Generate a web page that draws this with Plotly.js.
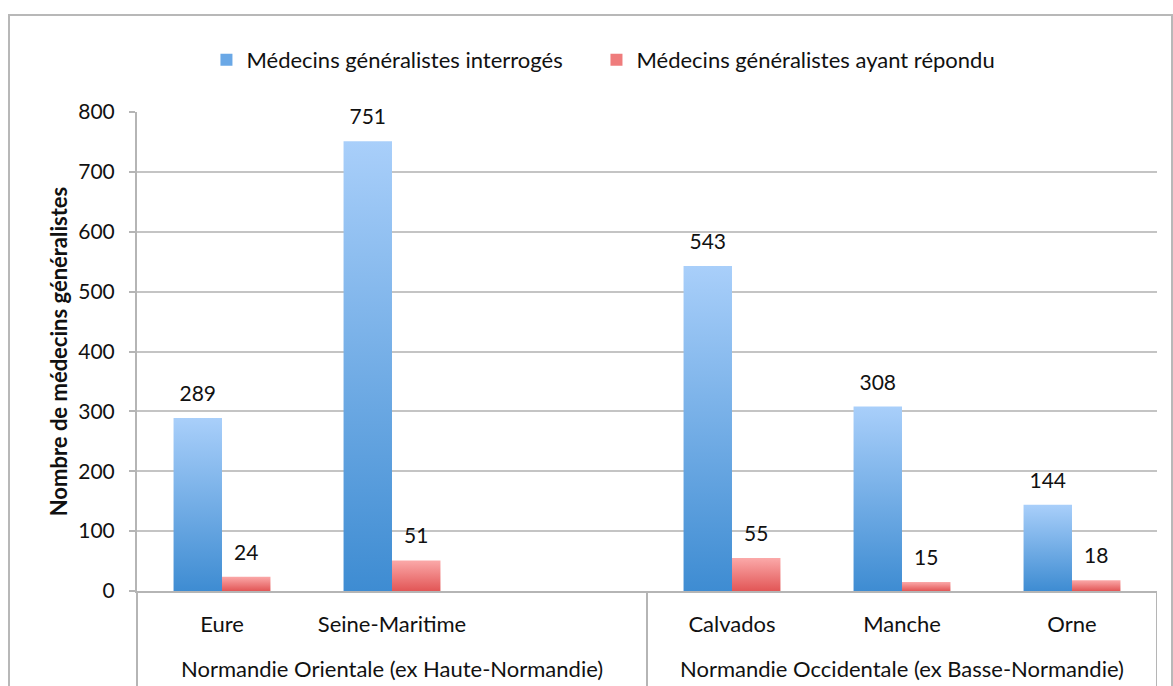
<!DOCTYPE html>
<html>
<head>
<meta charset="utf-8">
<script src="https://cdn.plot.ly/plotly-3.0.1.min.js"></script>
<style>
  html, body { margin: 0; padding: 0; background: #fff; }
  #frame { position: absolute; left: 8px; top: 14px; width: 1161px; height: 700px;
           border-left: 2px solid #b8b8b8; border-top: 2px solid #b8b8b8; border-right: 2px solid #b8b8b8; }
  #chart { position: absolute; left: 0; top: 0; width: 1173px; height: 686px; }
</style>
</head>
<body>
<div id="frame"></div>
<div id="chart"></div>
<script>
// Data
const groupLabels = ["Normandie Orientale (ex Haute-Normandie)", "Normandie Occidentale (ex Basse-Normandie)"];
const departements = ["Eure", "Seine-Maritime", " ", "Calvados", "Manche", "Orne"];
const interroges = [289, 751, null, 543, 308, 144];
const repondu = [24, 51, null, 55, 15, 18];
const yTicks = [0, 100, 200, 300, 400, 500, 600, 700, 800];

const FONT = "Lato, 'Open Sans', sans-serif";
const INK = "#111";

const traces = [
  {
    type: "bar", name: "Médecins généralistes interrogés", legend: "legend",
    x: departements, y: interroges,
    marker: { color: "#6aa8e6", line: { width: 0 } },
    text: interroges.map(v => v == null ? "" : String(v)),
    textposition: "outside", cliponaxis: false,
    textfont: { family: FONT, size: 21, color: INK },
    hoverinfo: "y"
  },
  {
    type: "bar", name: "Médecins généralistes ayant répondu", legend: "legend2",
    x: departements, y: repondu,
    marker: { color: "#ef7c7c", line: { width: 0 } },
    text: repondu.map(v => v == null ? "" : String(v)),
    textposition: "outside", cliponaxis: false,
    textfont: { family: FONT, size: 21, color: INK },
    hoverinfo: "y"
  }
];

// Group labels placed under the departement labels, centred on their groups
const groupCenters = [1, 4];
const dividerPositions = [2.5, 5.5];

const legendBase = {
  orientation: "h", xref: "container", yref: "container",
  xanchor: "left", y: 1 - 60 / 686, yanchor: "middle",
  font: { family: FONT, size: 22, color: INK },
  itemwidth: 30, bgcolor: "rgba(0,0,0,0)"
};

const layout = {
  width: 1173, height: 686,
  paper_bgcolor: "rgba(0,0,0,0)", plot_bgcolor: "rgba(0,0,0,0)",
  margin: { l: 137, r: 16, t: 112, b: 95 },
  font: { family: FONT, size: 21, color: INK },
  barmode: "group", bargap: 0.43, bargroupgap: 0,
  showlegend: true,
  legend: Object.assign({}, legendBase, { x: 0.176 }),
  legend2: Object.assign({}, legendBase, { x: 0.5085 }),
  xaxis: {
    type: "category", range: [-0.5, 5.5],
    showline: true, linecolor: "#b5b5b5", linewidth: 2,
    tickfont: { family: FONT, size: 22, color: INK },
    ticks: "", showgrid: false, zeroline: false,
    ticklabelstandoff: 13
  },
  yaxis: {
    range: [0, 800], tickvals: yTicks, ticktext: yTicks.map(String),
    showgrid: true, gridcolor: "#c4c4c4", gridwidth: 2,
    showline: true, linecolor: "#b5b5b5", linewidth: 2,
    ticks: "outside", ticklen: 6, tickcolor: "#b5b5b5", tickwidth: 2,
    ticklabelstandoff: 10,
    zeroline: false,
    tickfont: { family: FONT, size: 21, color: INK },
    title: { text: "<b>Nombre de médecins généralistes</b>", standoff: 5,
             font: { family: FONT, size: 22, color: INK } }
  },
  annotations: groupLabels.map((t, i) => ({
    text: t, xref: "x", yref: "paper", x: groupCenters[i], y: -0.161,
    yanchor: "middle", xanchor: "center", showarrow: false,
    font: { family: FONT, size: 22, color: INK }
  })),
  shapes: [
    { type: "line", xref: "paper", yref: "paper", x0: 0, x1: 0, y0: 0, y1: -0.21, line: { color: "#b5b5b5", width: 2 } }
  ].concat(dividerPositions.map(p => ({
    type: "line", xref: "x", yref: "paper", x0: p, x1: p, y0: 0, y1: -0.21,
    line: { color: "#b5b5b5", width: 2 }
  })))
};

function finish(gd) {
  const svg = gd.querySelector("svg.main-svg");
  if (!svg) return;
  let defs = svg.querySelector("defs");
  if (!defs) { defs = document.createElementNS("http://www.w3.org/2000/svg", "defs"); svg.insertBefore(defs, svg.firstChild); }
  if (!defs.querySelector("#gradBlue")) {
    const mk = (id, top, bottom) => {
      const g = document.createElementNS("http://www.w3.org/2000/svg", "linearGradient");
      g.setAttribute("id", id); g.setAttribute("x1", "0"); g.setAttribute("y1", "0");
      g.setAttribute("x2", "0"); g.setAttribute("y2", "1");
      [[0, top], [1, bottom]].forEach(([o, c]) => {
        const s = document.createElementNS("http://www.w3.org/2000/svg", "stop");
        s.setAttribute("offset", o); s.setAttribute("stop-color", c);
        g.appendChild(s);
      });
      defs.appendChild(g);
    };
    mk("gradBlue", "#a9cffa", "#3e8cd2");
    mk("gradRed", "#fba9a9", "#e25656");
  }
  gd.querySelectorAll(".barlayer .trace.bars").forEach((g, i) => {
    g.querySelectorAll("path").forEach(p => { p.style.fill = i === 0 ? "url(#gradBlue)" : "url(#gradRed)"; });
    // lift the value labels a little further above their bars
    g.querySelectorAll("text.bartext").forEach(t => {
      if (t.dataset.lifted) return;
      t.dataset.lifted = "1";
      t.setAttribute("transform", "translate(0,-10) " + (t.getAttribute("transform") || ""));
    });
  });
  gd.querySelectorAll(".legend .legendpoints path").forEach(p => {
    p.style.strokeWidth = "0";
  });
}

Plotly.newPlot("chart", traces, layout, { displayModeBar: false, staticPlot: true }).then(gd => {
  finish(gd);
});
</script>
</body>
</html>
